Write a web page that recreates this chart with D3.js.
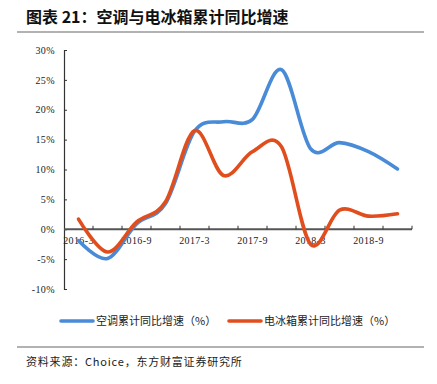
<!DOCTYPE html>
<html>
<head>
<meta charset="utf-8">
<script src="https://cdn.jsdelivr.net/npm/d3@7"></script>
<style>
  body { margin: 0; background: #fff; }
  svg { display: block; }
  .cjk { font-family: "Noto Sans CJK SC", sans-serif; }
  .tick text { font-family: "Liberation Serif", serif; font-size: 10px; fill: #222; letter-spacing: 0.4px; }
</style>
</head>
<body>
<svg></svg>
<script>
  //Quarterly categories
  const categories = ['2016-3', '2016-6', '2016-9', '2016-12', '2017-3', '2017-6',
    '2017-9', '2017-12', '2018-3', '2018-6', '2018-9', '2018-12'];
  //Only every other category is labelled
  const shownLabels = ['2016-3', '2016-9', '2017-3', '2017-9', '2018-3', '2018-9'];
  //Cumulative yoy growth, %
  const airConditioner = [-1.9, -4.9, 0.9, 4.3, 16.4, 18.0, 18.4, 26.7, 13.5, 14.5, 13.0, 10.1];
  const refrigerator = [1.7, -3.8, 1.2, 4.6, 16.5, 9.0, 13.0, 13.8, -2.5, 3.2, 2.2, 2.6];
  const yTicks = [-10, -5, 0, 5, 10, 15, 20, 25, 30];
  const seriesNames = ['空调累计同比增速（%）', '电冰箱累计同比增速（%）'];
  const colors = ['#4a8bd8', '#e14e1d'];

  const width = 437, height = 384;
  const svg = d3.select('svg').attr('width', width).attr('height', height);

  //Title and separators
  svg.append('text').attr('class', 'cjk')
    .attr('x', 26).attr('y', 23)
    .attr('font-size', 16).attr('font-weight', 'bold').attr('fill', '#111')
    .text('图表 21：空调与电冰箱累计同比增速');
  svg.append('line').attr('x1', 17).attr('x2', 424).attr('y1', 32).attr('y2', 32)
    .attr('stroke', '#666').attr('stroke-width', 1.2);
  svg.append('line').attr('x1', 17).attr('x2', 424).attr('y1', 347).attr('y2', 347)
    .attr('stroke', '#666').attr('stroke-width', 1.2);
  svg.append('text').attr('class', 'cjk')
    .attr('x', 26).attr('y', 366)
    .attr('font-size', 11).attr('fill', '#222').attr('letter-spacing', 0.8)
    .text('资料来源：Choice，东方财富证券研究所');

  //Scales
  const x = d3.scaleBand().domain(categories).range([64, 412]);
  const y = d3.scaleLinear().domain([-10, 30]).range([289, 50]);

  //Y axis
  svg.append('g')
    .attr('transform', 'translate(64,0)')
    .call(d3.axisLeft(y).tickValues(yTicks).tickSize(-3).tickPadding(9).tickFormat(d => d + '%'))
    .call(g => g.select('.domain').attr('stroke', '#333').attr('stroke-width', 1.2))
    .call(g => g.selectAll('.tick line').attr('stroke', '#333'));

  //X axis labels (drawn under the lines)
  svg.append('g')
    .attr('transform', `translate(0,${y(0)})`)
    .call(d3.axisBottom(x).tickSize(0).tickPadding(8)
      .tickFormat(d => shownLabels.includes(d) ? d : ''))
    .call(g => g.select('.domain').remove());

  //Zero line with upward ticks at band edges
  svg.append('line')
    .attr('x1', x.range()[0]).attr('x2', x.range()[1])
    .attr('y1', y(0)).attr('y2', y(0))
    .attr('stroke', '#555').attr('stroke-width', 1.8);
  svg.append('g').selectAll('line')
    .data(categories)
    .enter().append('line')
    .attr('x1', d => x(d) + x.bandwidth()).attr('x2', d => x(d) + x.bandwidth())
    .attr('y1', y(0)).attr('y2', y(0) - 3.5)
    .attr('stroke', '#333').attr('stroke-width', 1);

  //Lines, smoothed like the spreadsheet original
  const line = d3.line()
    .x((d, i) => x(categories[i]) + x.bandwidth() / 2)
    .y(d => y(d))
    .curve(d3.curveCardinal.tension(0));

  [airConditioner, refrigerator].forEach((series, i) => {
    svg.append('path')
      .datum(series)
      .attr('fill', 'none')
      .attr('stroke', colors[i])
      .attr('stroke-width', 3.6)
      .attr('stroke-linecap', 'round')
      .attr('stroke-linejoin', 'round')
      .attr('d', line);
  });

  //Legend
  const legend = svg.append('g').selectAll('g')
    .data(seriesNames)
    .enter().append('g')
    .attr('transform', (d, i) => `translate(${i ? 229 : 61},321)`);
  legend.append('line')
    .attr('x1', 0).attr('x2', 32)
    .attr('stroke', (d, i) => colors[i])
    .attr('stroke-width', 3.6).attr('stroke-linecap', 'round');
  legend.append('text').attr('class', 'cjk')
    .attr('x', 35).attr('y', 4)
    .attr('font-size', 11).attr('fill', '#222')
    .text(d => d);
</script>
</body>
</html>
